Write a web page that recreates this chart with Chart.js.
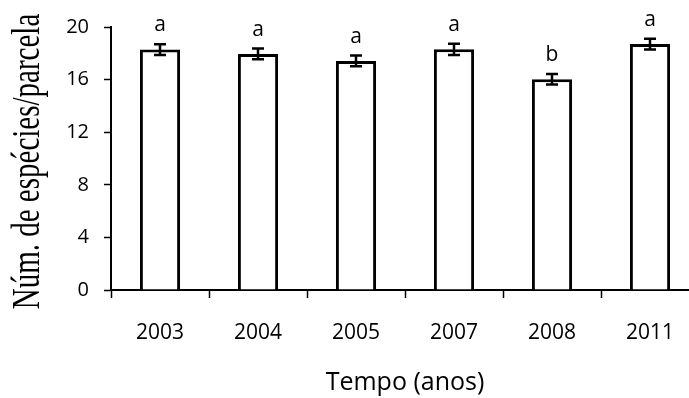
<!DOCTYPE html>
<html>
<head>
<meta charset="utf-8">
<script src="https://cdn.jsdelivr.net/npm/chart.js@4"></script>
<style>
    html, body { margin: 0; padding: 0; background: #fff; overflow: hidden; }
    #wrap { width: 700px; height: 398px; }
</style>
</head>
<body>
<div id="wrap"><canvas id="speciesChart" width="700" height="398"></canvas></div>
<script>
// 每年每个样方的物种数（均值 ± 标准误）
const years = ['2003', '2004', '2005', '2007', '2008', '2011'];
const meanSpecies = [18.28, 17.95, 17.42, 18.3, 16.03, 18.7];
const stdError = [0.40, 0.41, 0.41, 0.43, 0.40, 0.41];
const groupLetters = ['a', 'a', 'a', 'a', 'b', 'a'];
const yTicks = [0, 4, 8, 12, 16, 20];

const yTitle = 'Núm. de espécies/parcela';
const xTitle = 'Tempo (anos)';

// 误差线 + 显著性字母
const errorBarPlugin = {
    id: 'errorBars',
    afterDatasetsDraw(chart) {
        const ctx = chart.ctx;
        const yScale = chart.scales.y;
        const meta = chart.getDatasetMeta(0);
        ctx.save();
        ctx.strokeStyle = '#000';
        ctx.lineWidth = 2.5;
        meta.data.forEach((bar, i) => {
            const x = bar.x;
            const top = yScale.getPixelForValue(meanSpecies[i] + stdError[i]);
            const bottom = yScale.getPixelForValue(meanSpecies[i] - stdError[i]);
            ctx.beginPath();
            ctx.moveTo(x, top);
            ctx.lineTo(x, bottom);
            ctx.moveTo(x - 6, top);
            ctx.lineTo(x + 6, top);
            ctx.moveTo(x - 6, bottom);
            ctx.lineTo(x + 6, bottom);
            ctx.stroke();

            ctx.fillStyle = '#000';
            ctx.font = '21px "Open Sans"';
            ctx.textAlign = 'center';
            ctx.textBaseline = 'alphabetic';
            ctx.fillText(groupLetters[i], x, top - 13);
        });
        ctx.restore();
    }
};

// 纵轴标题（衬线体，横向拉伸）
const yTitlePlugin = {
    id: 'yTitle',
    afterDraw(chart) {
        const ctx = chart.ctx;
        const area = chart.chartArea;
        ctx.save();
        ctx.translate(28, (area.top + area.bottom) / 2 + 3);
        ctx.rotate(-Math.PI / 2);
        ctx.scale(1, 1.4);
        ctx.fillStyle = '#000';
        ctx.font = '29px "Liberation Serif"';
        ctx.textAlign = 'center';
        ctx.textBaseline = 'middle';
        ctx.fillText(yTitle, 0, 0);
        ctx.restore();
    }
};

const ctx = document.getElementById('speciesChart').getContext('2d');
const speciesChart = new Chart(ctx, {
    type: 'bar',
    data: {
        labels: years,
        datasets: [{
            data: meanSpecies,
            backgroundColor: '#fff',
            borderColor: '#000',
            borderWidth: 3,
            barPercentage: 0.41,
            categoryPercentage: 1
        }]
    },
    options: {
        responsive: false,
        animation: false,
        layout: {
            padding: { top: 24, right: 1, left: 0, bottom: 0 }
        },
        plugins: {
            legend: { display: false },
            tooltip: { enabled: false }
        },
        scales: {
            x: {
                grid: {
                    offset: true,
                    drawOnChartArea: false,
                    drawTicks: true,
                    tickLength: 8,
                    tickColor: '#000',
                    tickWidth: 1.5
                },
                border: { color: '#000', width: 2 },
                ticks: {
                    color: '#000',
                    font: { family: 'Open Sans', size: 21 },
                    padding: 22,
                    maxRotation: 0
                },
                title: {
                    display: true,
                    text: xTitle,
                    color: '#000',
                    font: { family: 'Open Sans', size: 25 },
                    padding: { top: 0, bottom: 0 }
                },
                afterFit(scale) {
                    scale.height = 108;
                }
            },
            y: {
                min: 0,
                max: 20,
                afterBuildTicks(scale) {
                    scale.ticks = yTicks.map(v => ({ value: v }));
                },
                grid: {
                    drawOnChartArea: false,
                    drawTicks: true,
                    tickLength: 7,
                    tickColor: '#000',
                    tickWidth: 1.5
                },
                border: { color: '#000', width: 2 },
                ticks: {
                    color: '#000',
                    font: { family: 'Open Sans', size: 20 },
                    padding: 15
                },
                afterFit(scale) {
                    scale.width = 111;
                }
            }
        }
    },
    plugins: [errorBarPlugin, yTitlePlugin]
});
</script>
</body>
</html>
